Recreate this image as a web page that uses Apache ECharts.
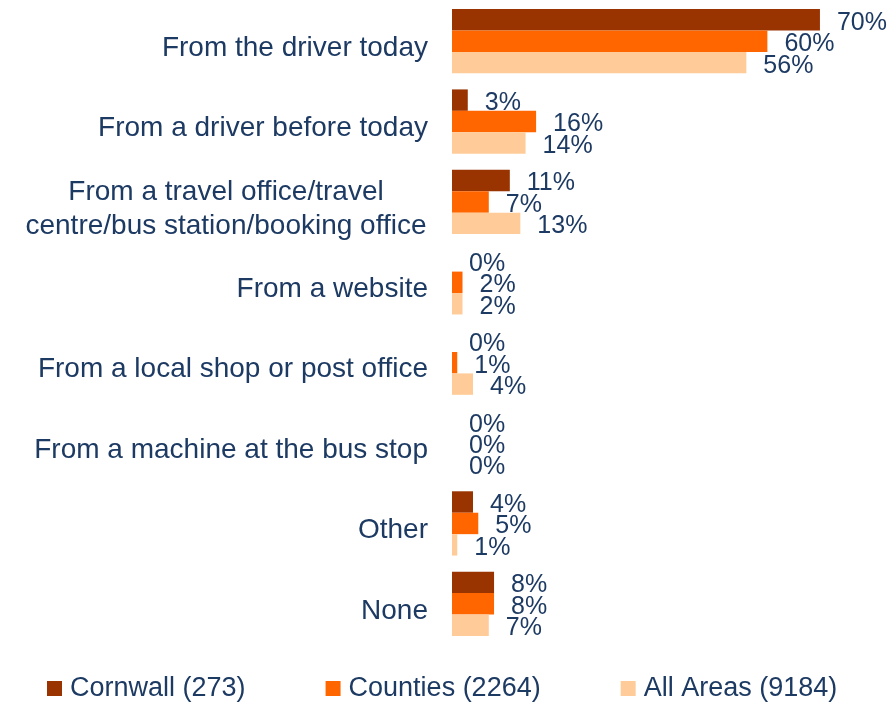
<!DOCTYPE html>
<html lang="en">
<head>
    <meta charset="UTF-8">
    <title>Where ticket bought</title>
    <script src="https://cdn.jsdelivr.net/npm/echarts@6/dist/echarts.min.js"></script>
    <style>
        html, body { margin: 0; padding: 0; background: #fff; }
    </style>
</head>
<body>
<div id="main" style="width: 893px;height:707px;"></div>
</body>
<script>
    // categories, top to bottom
    var categories = [
        'From the driver today',
        'From a driver before today',
        'From a travel office/travel\ncentre/bus station/booking office',
        'From a website',
        'From a local shop or post office',
        'From a machine at the bus stop',
        'Other',
        'None'
    ];
    var seriesNames = ['Cornwall (273)', 'Counties (2264)', 'All Areas (9184)'];
    var cornwall = [70, 3, 11, 0, 0, 0, 4, 8];
    var counties = [60, 16, 7, 2, 1, 0, 5, 8];
    var allAreas = [56, 14, 13, 2, 4, 0, 1, 7];
    var colors = ['#993300', '#FF6600', '#FFCC99'];

    var textColor = '#1D3A63';
    var font = "'Liberation Sans', Arial, sans-serif";

    var myChart = echarts.init(document.getElementById('main'));

    function makeSeries(name, data, color) {
        return {
            name: name,
            type: 'bar',
            data: data,
            barGap: '0%',
            barCategoryGap: '20%',
            itemStyle: {color: color},
            label: {
                show: true,
                position: 'right',
                distance: 17,
                offset: [0, 3],
                formatter: '{c}%',
                color: textColor,
                fontSize: 25,
                fontFamily: font
            }
        };
    }

    var option = {
        animation: false,
        grid: {left: 452, right: 20.5, top: 1, bottom: 63, containLabel: false},
        legend: {
            data: seriesNames,
            left: 47,
            top: 675,
            padding: 0,
            itemWidth: 15,
            itemHeight: 15,
            itemGap: 80,
            icon: 'rect',
            textStyle: {color: textColor, fontSize: 27, fontFamily: font, padding: [0, 0, 0, 3]}
        },
        xAxis: {
            type: 'value',
            min: 0,
            max: 80,
            show: false
        },
        yAxis: {
            type: 'category',
            data: categories,
            inverse: true,
            axisLine: {show: false},
            axisTick: {show: false},
            axisLabel: {
                margin: 24,
                color: textColor,
                fontSize: 28,
                fontFamily: font,
                lineHeight: 34,
                align: 'right',
                padding: [14, 0, 0, 0],
                formatter: function (v) {
                    // two-line label: lines centred on each other
                    if (v.indexOf('\n') < 0) return v;
                    return v.split('\n').map(function (s) { return '{c|' + s + '}'; }).join('\n');
                },
                rich: {
                    c: {width: 404, align: 'center', fontSize: 28, lineHeight: 34, color: textColor, fontFamily: font}
                }
            }
        },
        series: [
            makeSeries(seriesNames[0], cornwall, colors[0]),
            makeSeries(seriesNames[1], counties, colors[1]),
            makeSeries(seriesNames[2], allAreas, colors[2])
        ]
    };

    myChart.setOption(option);
</script>
</html>
